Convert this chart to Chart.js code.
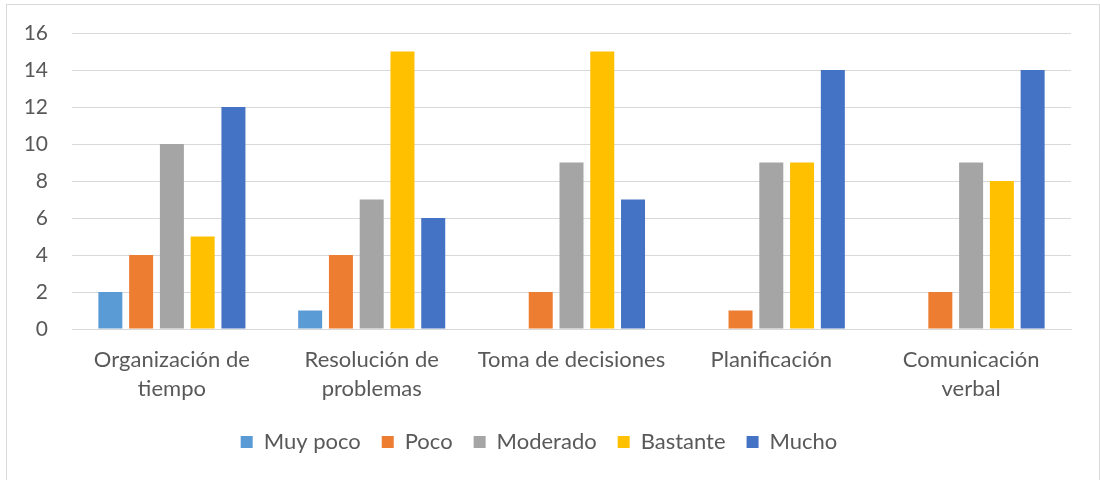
<!DOCTYPE html>
<html>
<head>
<meta charset="utf-8">
<script src="https://cdn.jsdelivr.net/npm/chart.js@4"></script>
<style>
  body { margin: 0; background: #fff; }
  .box { position: absolute; left: 6px; top: 4px; width: 1092px; height: 480px; border: 1px solid #d9d9d9; }
</style>
</head>
<body>
<div class="box"><canvas id="c" width="1092" height="480"></canvas></div>
<script>
var categories = [['Organización de', 'tiempo'], ['Resolución de', 'problemas'], 'Toma de decisiones', 'Planificación', ['Comunicación', 'verbal']];
var muyPoco = [2, 1, 0, 0, 0];
var poco = [4, 4, 2, 1, 2];
var moderado = [10, 7, 9, 9, 9];
var bastante = [5, 15, 15, 9, 8];
var mucho = [12, 6, 7, 14, 14];
var seriesNames = ['Muy poco', 'Poco', 'Moderado', 'Bastante', 'Mucho'];
var seriesColors = ['#5B9BD5', '#ED7D31', '#A5A5A5', '#FFC000', '#4472C4'];
var yTicks = [0, 2, 4, 6, 8, 10, 12, 14, 16];

Chart.defaults.font.family = 'Lato, "Open Sans", sans-serif';
Chart.defaults.color = '#595959';

var allSeries = [muyPoco, poco, moderado, bastante, mucho];
var datasets = allSeries.map(function(vals, i){
  return {
    label: seriesNames[i],
    data: vals,
    backgroundColor: seriesColors[i],
    borderColor: seriesColors[i],
    borderWidth: 0,
    categoryPercentage: 0.77,
    barPercentage: 0.78
  };
});

new Chart(document.getElementById('c'), {
  type: 'bar',
  data: { labels: categories, datasets: datasets },
  options: {
    responsive: false,
    animation: false,
    layout: { padding: { top: 28, right: 28, left: 0, bottom: 22 } },
    plugins: {
      tooltip: { enabled: false },
      legend: {
        position: 'bottom',
        labels: { boxWidth: 12, boxHeight: 12, padding: 21, font: { size: 22 }, color: '#595959' }
      }
    },
    scales: {
      x: {
        afterFit: function(axis){ axis.height = 81; },
        grid: { display: false },
        border: { color: '#d9d9d9', width: 1 },
        ticks: { font: { size: 22, lineHeight: 1.3 }, color: '#595959', padding: 9, maxRotation: 0, autoSkip: false }
      },
      y: {
        min: 0, max: 16,
        afterFit: function(axis){
          axis.width = 65;
          axis.paddingTop = 0; // let layout.padding.top place the plot
        },
        afterBuildTicks: function(axis){ axis.ticks = yTicks.map(function(v){ return { value: v }; }); },
        grid: { color: '#d9d9d9', lineWidth: 1, drawTicks: false },
        border: { display: false },
        ticks: { font: { size: 21 }, color: '#595959', padding: 24 }
      }
    }
  }
});
</script>
</body>
</html>
